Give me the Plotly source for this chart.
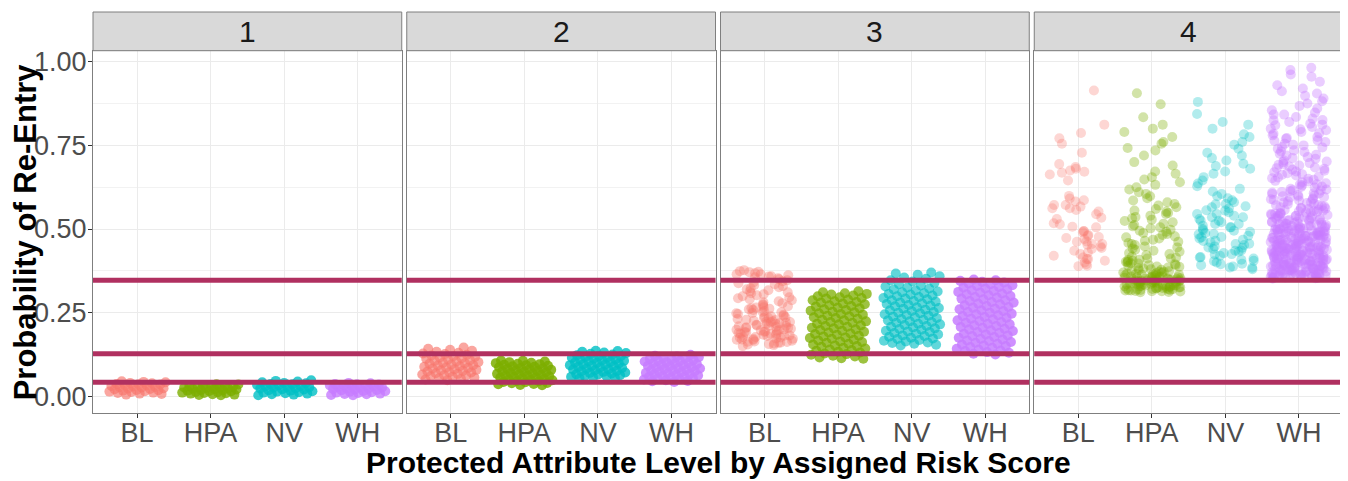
import math
import plotly.graph_objects as go
from plotly.subplots import make_subplots

# ---------------- data (probabilities, in thousandths) ----------------
categories = ["BL", "HPA", "NV", "WH"]
risk_scores = ["1", "2", "3", "4"]
thresholds = [0.042, 0.127, 0.347]
y_ticks = [0, 0.25, 0.5, 0.75, 1.0]
y_tick_labels = ["0.00", "0.25", "0.50", "0.75", "1.00"]

p1_bl = [5, 7, 8, 10, 11, 13, 14, 15, 17, 18, 19, 21, 22, 23, 24, 26, 27, 28, 29, 31,
         32, 33, 35, 36, 37, 39, 40, 42, 43, 45]
p1_hpa = [3, 4, 5, 6, 8, 9, 10, 11, 12, 13, 15, 16, 17, 18, 19, 20, 22, 23, 24, 25,
          26, 27, 28, 29, 31, 32, 33, 34, 35, 36]
p1_nv = [3, 5, 6, 8, 9, 11, 12, 14, 15, 17, 18, 20, 21, 23, 24, 26, 27, 28, 30, 31,
         33, 34, 36, 37, 39, 40, 42, 44, 46, 48]
p1_wh = [3, 4, 6, 7, 8, 10, 11, 12, 14, 15, 16, 18, 19, 20, 22, 23, 24, 26, 27, 28,
         30, 31, 32, 33, 34, 35, 36, 37, 39, 40]

p2_bl = [48, 50, 52, 54, 56, 58, 60, 62, 63, 65, 67, 69, 71, 72, 74, 76, 78, 79, 81, 83,
         85, 86, 88, 90, 92, 93, 95, 97, 99, 100, 102, 104, 106, 108, 110, 112, 114, 116,
         118, 120, 122, 124, 126, 128, 130, 133, 136, 139, 142, 146]
p2_hpa = [33, 34, 36, 37, 39, 40, 42, 43, 45, 46, 48, 49, 51, 52, 54, 55, 57, 58, 60, 61,
          63, 64, 66, 67, 69, 70, 72, 73, 75, 76, 78, 79, 81, 82, 84, 85, 87, 88, 90, 91,
          93, 94, 96, 97, 99, 100, 102, 104, 106, 107]
p2_nv = [53, 55, 56, 58, 60, 61, 63, 65, 66, 68, 70, 71, 73, 75, 76, 78, 80, 81, 83, 85,
         86, 88, 90, 91, 93, 95, 96, 98, 100, 101, 103, 105, 106, 108, 110, 111, 113, 115,
         116, 118, 120, 121, 123, 125, 127, 129, 131, 133, 135, 136]
p2_wh = [43, 45, 46, 48, 50, 51, 53, 54, 56, 58, 59, 61, 62, 64, 66, 67, 69, 70, 72, 74,
         75, 77, 78, 80, 82, 83, 85, 86, 88, 90, 91, 93, 94, 96, 98, 99, 101, 102, 104,
         106, 107, 109, 110, 112, 114, 115, 117, 119, 121, 124]

p3_bl = [150, 153, 156, 158, 160, 162, 164, 166, 168, 170, 171, 173, 175, 177, 178, 180,
         182, 184, 185, 187, 189, 191, 192, 194, 196, 198, 200, 202, 204, 206, 208, 210,
         212, 214, 216, 218, 220, 222, 224, 226, 228, 231, 234, 236, 238, 241, 244, 246,
         249, 252, 255, 258, 260, 263, 266, 269, 272, 275, 278, 281, 284, 287, 290, 293,
         296, 299, 302, 305, 308, 311, 314, 317, 320, 323, 326, 329, 332, 335, 338, 341,
         344, 347, 350, 353, 356, 359, 362, 365, 368, 371, 374, 160, 172, 186, 197, 209,
         221, 233, 248, 262, 365, 372, 358, 377, 155, 163, 169, 176, 181, 188, 193, 199,
         205, 211, 217, 223, 229, 239, 251, 265]
p3_hpa = [112, 114, 116, 119, 121, 124, 126, 128, 131, 133, 136, 138, 140, 143, 145, 148,
          150, 152, 155, 157, 160, 162, 164, 167, 169, 172, 174, 176, 179, 181, 184, 186,
          188, 191, 193, 196, 198, 200, 203, 205, 208, 210, 212, 215, 217, 220, 222, 224,
          227, 229, 232, 234, 236, 239, 241, 244, 246, 248, 251, 253, 256, 258, 260, 263,
          265, 268, 270, 272, 275, 277, 280, 282, 284, 287, 289, 292, 294, 296, 299, 301,
          304, 306, 308, 311, 314]
p3_nv = [152, 154, 157, 159, 161, 164, 166, 168, 171, 173, 175, 178, 180, 182, 185, 187,
         189, 192, 194, 196, 199, 201, 203, 206, 208, 210, 213, 215, 217, 220, 222, 224,
         227, 229, 231, 234, 236, 238, 241, 243, 245, 248, 250, 252, 255, 257, 259, 262,
         264, 266, 269, 271, 273, 276, 278, 280, 283, 285, 287, 290, 292, 294, 297, 299,
         301, 304, 306, 308, 311, 313, 316, 319, 322, 325, 328, 331, 335, 339, 343, 347,
         351, 355, 359, 363, 367, 370]
p3_wh = [125, 127, 130, 132, 135, 137, 140, 142, 145, 147, 150, 152, 155, 157, 160, 162,
         165, 167, 170, 172, 175, 177, 180, 182, 185, 187, 190, 192, 195, 197, 200, 202,
         205, 207, 210, 212, 215, 217, 220, 222, 225, 227, 230, 232, 235, 237, 240, 242,
         245, 247, 250, 252, 255, 257, 260, 262, 265, 267, 270, 272, 275, 277, 280, 282,
         285, 287, 290, 292, 295, 297, 300, 302, 305, 307, 310, 312, 315, 317, 320, 322,
         325, 327, 330, 332, 335, 337, 340, 342, 345, 347, 349]

p4_bl = [914, 812, 787, 771, 755, 728, 694, 685, 680, 671, 663, 675, 668, 645, 599, 591,
         586, 582, 572, 567, 562, 557, 552, 572, 562, 544, 534, 530, 517, 507, 514, 494,
         493, 490, 482, 473, 463, 453, 448, 443, 476, 470, 462, 455, 440, 430, 425, 420,
         415, 410, 405, 400, 395, 390, 389, 410, 435, 455, 480, 505]
p4_hpa = [906, 873, 834, 812, 800, 790, 775, 760, 755, 742, 735, 720, 700, 690, 672, 665,
          655, 648, 640, 632, 625, 618, 610, 605, 598, 592, 585, 580, 575, 570, 565, 560,
          555, 552, 548, 545, 540, 536, 532, 528, 524, 520, 516, 512, 508, 505, 502, 498,
          495, 492, 488, 485, 482, 478, 475, 472, 468, 465, 462, 458, 455, 452, 448, 445,
          442, 438, 435, 432, 428, 425, 422, 418, 415, 412, 408, 405, 402, 400, 398, 395,
          392, 390, 388, 385, 383, 380, 378, 376, 374, 372, 370, 368, 366, 364, 362, 360,
          358, 356, 354, 352, 350, 348, 346, 344, 342, 340, 338, 336, 334, 332, 330, 328,
          326, 324, 322, 320, 318, 316, 314, 312, 313, 317, 321, 325, 329, 333, 337, 341,
          345, 349, 353, 357, 361, 365, 369, 315, 319, 323, 327, 331, 335, 339, 343, 347,
          351, 355, 359, 363, 367, 372, 377, 382, 387, 392, 397, 402, 407, 412,
          311, 314, 316, 318, 320, 322, 324, 326, 328, 330, 332, 334, 336, 338, 340, 342,
          344, 346, 348, 350, 352, 354, 356, 358]
p4_nv = [880, 844, 820, 812, 800, 783, 775, 760, 752, 740, 728, 720, 712, 705, 695, 688,
         680, 672, 665, 655, 645, 636, 628, 620, 612, 605, 598, 592, 586, 580, 574, 568,
         562, 556, 550, 545, 540, 535, 530, 525, 520, 515, 510, 505, 500, 496, 492, 488,
         484, 480, 476, 472, 468, 464, 460, 456, 452, 448, 444, 440, 436, 432, 428, 424,
         420, 416, 412, 408, 404, 400, 396, 392, 388, 384, 380, 575, 565, 555, 545, 535,
         525, 515, 505, 495, 485, 475, 465, 455, 445, 435, 425, 415, 405, 395, 385]
p4_wh = [982, 975, 962, 955, 940, 930, 920, 912, 905, 898, 890, 882, 875, 868, 860, 855,
         848, 842, 835, 830, 825, 820, 815, 810, 805, 800, 795, 790, 785, 780, 775, 770,
         765, 760, 755, 750, 745, 740, 735, 730, 725, 720, 715, 710, 705, 700,
         697, 694, 690, 687, 684, 680, 677, 674, 670, 667, 664, 660, 657, 654, 650, 647,
         644, 640, 637, 634, 630, 627, 624, 620,
         618, 616, 613, 611, 609, 607, 605, 602, 600, 598, 596, 594, 591, 589, 587, 585,
         583, 580, 578, 576, 574, 572, 569, 567, 565, 563, 561,
         560, 558, 557, 555, 554, 552, 551, 549, 548, 546, 545, 543, 542, 540, 539, 537,
         536, 534, 533, 531, 530, 528, 527, 525, 524, 522, 521, 519, 518, 516, 515, 513,
         512, 510, 509, 507, 506, 504, 503, 501, 500, 498, 497, 495, 494, 492, 491, 489,
         488, 486, 485, 483, 482, 480, 479, 477, 476, 474, 473, 471, 470, 468, 467, 465,
         464, 462, 461, 459, 458, 456, 455, 453, 452, 450, 449, 447, 446, 444, 443, 441,
         440, 438, 437, 435, 434, 432, 431, 429, 428, 426, 425, 423, 422, 420, 419, 417,
         416, 414, 413, 411, 410, 408, 407, 405, 404, 402, 401, 399, 398, 396, 395, 393,
         392, 390, 389, 387, 386, 384, 383, 381, 380, 378, 377, 375, 374, 372, 371, 369,
         368, 366, 365, 363, 362, 360, 359, 357, 356, 354, 353,
         354, 357, 360, 363, 366, 369, 372, 375, 378, 381, 384, 387, 390, 393, 396, 399,
         402, 405, 408, 411, 414, 417, 420, 423, 426, 429, 432, 435, 438, 441, 444, 447,
         452, 456, 460, 464, 468, 472, 476, 480, 484, 488, 492, 496, 500, 504, 508, 512,
         516, 520,
         842, 826, 812, 798, 786, 772, 764, 752, 744, 732, 722, 712, 702, 692, 682, 672,
         662, 652, 642, 633, 626, 615, 606, 597, 588, 579, 571, 562, 553, 546, 538,
         356, 359, 362, 365, 368, 371, 374, 377, 380, 383, 386, 389, 392, 395, 398, 401,
         404, 407, 410, 413, 416, 419, 422, 425, 428, 431, 434, 437, 440, 443, 446, 449,
         455, 461, 467, 473, 479, 485, 491, 497, 503, 509, 515, 521, 527, 533, 539, 545,
         352, 355, 358, 361, 364, 367, 370, 373, 376, 379, 382, 385, 388, 391, 394, 397,
         400, 403, 406, 409, 412, 415, 418, 421, 424, 427, 430, 433, 436, 439, 442, 445,
         448, 451, 454, 457, 460, 463, 466, 469, 472, 475, 478, 481, 484, 487, 490, 493,
         496, 499]

data = {
    ("1", "BL"): p1_bl, ("1", "HPA"): p1_hpa, ("1", "NV"): p1_nv, ("1", "WH"): p1_wh,
    ("2", "BL"): p2_bl, ("2", "HPA"): p2_hpa, ("2", "NV"): p2_nv, ("2", "WH"): p2_wh,
    ("3", "BL"): p3_bl, ("3", "HPA"): p3_hpa, ("3", "NV"): p3_nv, ("3", "WH"): p3_wh,
    ("4", "BL"): p4_bl, ("4", "HPA"): p4_hpa, ("4", "NV"): p4_nv, ("4", "WH"): p4_wh,
}

# ---------------- styles ----------------
colors = {"BL": "#F8766D", "HPA": "#7CAE00", "NV": "#00BFC4", "WH": "#C77CFF"}
opacity = {
    ("1", "BL"): 0.65, ("1", "HPA"): 0.8, ("1", "NV"): 0.8, ("1", "WH"): 0.8,
    ("2", "BL"): 0.65, ("2", "HPA"): 0.85, ("2", "NV"): 0.8, ("2", "WH"): 0.85,
    ("3", "BL"): 0.38, ("3", "HPA"): 0.75, ("3", "NV"): 0.62, ("3", "WH"): 0.85,
    ("4", "BL"): 0.3, ("4", "HPA"): 0.34, ("4", "NV"): 0.3, ("4", "WH"): 0.38,
}
# scattered (irregular) jitter for the loose clouds, even jitter for the packed ones
loose = {("3", "BL"), ("4", "BL"), ("4", "HPA"), ("4", "NV"), ("4", "WH")}

FONT = "Liberation Sans, Arial, sans-serif"
OFF = 8                      # browser page margin
W, H = 1348 - OFF, 481 - OFF
ML, MR, MT, MB = 93 - OFF, 5, 9 - OFF, 68
PW = W - ML - MR
PH = H - MT - MB
STRIP = 39
y_top = (PH - STRIP) / PH
PLOT_BOTTOM = 413            # reference pixel row of the panel bottom
GOLD = 0.6180339887
JIT = 0.39


def jitter(j, ci, pi, irregular):
    if irregular:
        u = math.sin((j + 1) * 12.9898 + ci * 78.233 + pi * 37.719) * 43758.5453
        f = u - math.floor(u)
    else:
        f = ((j + 0.5) * GOLD + 0.37 * ci + 0.13 * pi) % 1
    return JIT * (2 * f - 1)


fig = make_subplots(rows=1, cols=4, shared_yaxes=True, horizontal_spacing=5 / PW)

for pi, rs in enumerate(risk_scores):
    for ci, cat in enumerate(categories):
        vals = data[(rs, cat)]
        ys = [v / 1000 for v in vals]
        irr = (rs, cat) in loose
        xs = [ci + 1 + jitter(j, ci, pi, irr) for j in range(len(vals))]
        fig.add_trace(go.Scatter(
            x=xs, y=ys, mode="markers",
            marker=dict(size=10, color=colors[cat], opacity=opacity[(rs, cat)],
                        line=dict(width=0)),
            showlegend=False, hoverinfo="skip"), row=1, col=pi + 1)

shapes = []
annotations = []
for n in range(1, 5):
    sfx = "" if n == 1 else str(n)
    fig.update_layout(**{
        f"xaxis{sfx}": dict(range=[0.4, 4.6], tickvals=[1, 2, 3, 4], ticktext=categories,
                            showgrid=True, gridcolor="#EBEBEB", gridwidth=1, zeroline=False,
                            showline=True, mirror=True, linecolor="#7F7F7F", linewidth=1,
                            ticks="outside", ticklen=4, tickcolor="#333333",
                            ticklabelstandoff=-8,
                            tickfont=dict(size=27, color="#4D4D4D", family=FONT)),
        f"yaxis{sfx}": dict(range=[-0.05, 1.033], domain=[0, y_top], tickvals=y_ticks,
                            ticktext=y_tick_labels, showgrid=True, gridcolor="#EBEBEB",
                            gridwidth=1, zeroline=False, showline=True, mirror=True,
                            linecolor="#7F7F7F", linewidth=1,
                            ticks="outside" if n == 1 else "", ticklen=4, tickcolor="#333333",
                            showticklabels=(n == 1), ticklabelstandoff=-4,
                            tickfont=dict(size=27, color="#4D4D4D", family=FONT),
                            minor=dict(tickvals=[0.125, 0.375, 0.625, 0.875], showgrid=True,
                                       gridcolor="#F2F2F2", gridwidth=1, ticks="")),
    })
    for t in thresholds:
        shapes.append(dict(type="line", xref=f"x{sfx} domain", yref=f"y{sfx}",
                           x0=0, x1=1, y0=t, y1=t, layer="above",
                           line=dict(color="#B03060", width=5)))
    dom = fig.layout[f"xaxis{sfx}"].domain
    shapes.append(dict(type="rect", xref="paper", yref="paper", x0=dom[0], x1=dom[1],
                       y0=y_top, y1=1, fillcolor="#D9D9D9",
                       line=dict(color="#7F7F7F", width=1), layer="above"))
    annotations.append(dict(text=risk_scores[n - 1], xref="paper", yref="paper",
                            x=(dom[0] + dom[1]) / 2, y=(1 + y_top) / 2, showarrow=False,
                            xanchor="center", yanchor="middle",
                            font=dict(size=30, color="#1A1A1A", family=FONT)))

annotations.append(dict(text="<b>Protected Attribute Level by Assigned Risk Score</b>",
                        xref="paper", yref="paper", x=0.5, y=(PLOT_BOTTOM - 463) / PH,
                        showarrow=False, xanchor="center", yanchor="middle",
                        font=dict(size=30, color="#000000", family=FONT)))
annotations.append(dict(text="<b>Probability of Re-Entry</b>", xref="paper", yref="paper",
                        x=(25 - 93) / PW, y=(PLOT_BOTTOM - 231) / PH, textangle=-90,
                        showarrow=False, xanchor="center", yanchor="middle",
                        font=dict(size=31, color="#000000", family=FONT)))

fig.update_layout(width=W, height=H, margin=dict(l=ML, r=MR, t=MT, b=MB),
                  paper_bgcolor="white", plot_bgcolor="white",
                  shapes=shapes, annotations=annotations, showlegend=False)

fig.write_html("out.html")
